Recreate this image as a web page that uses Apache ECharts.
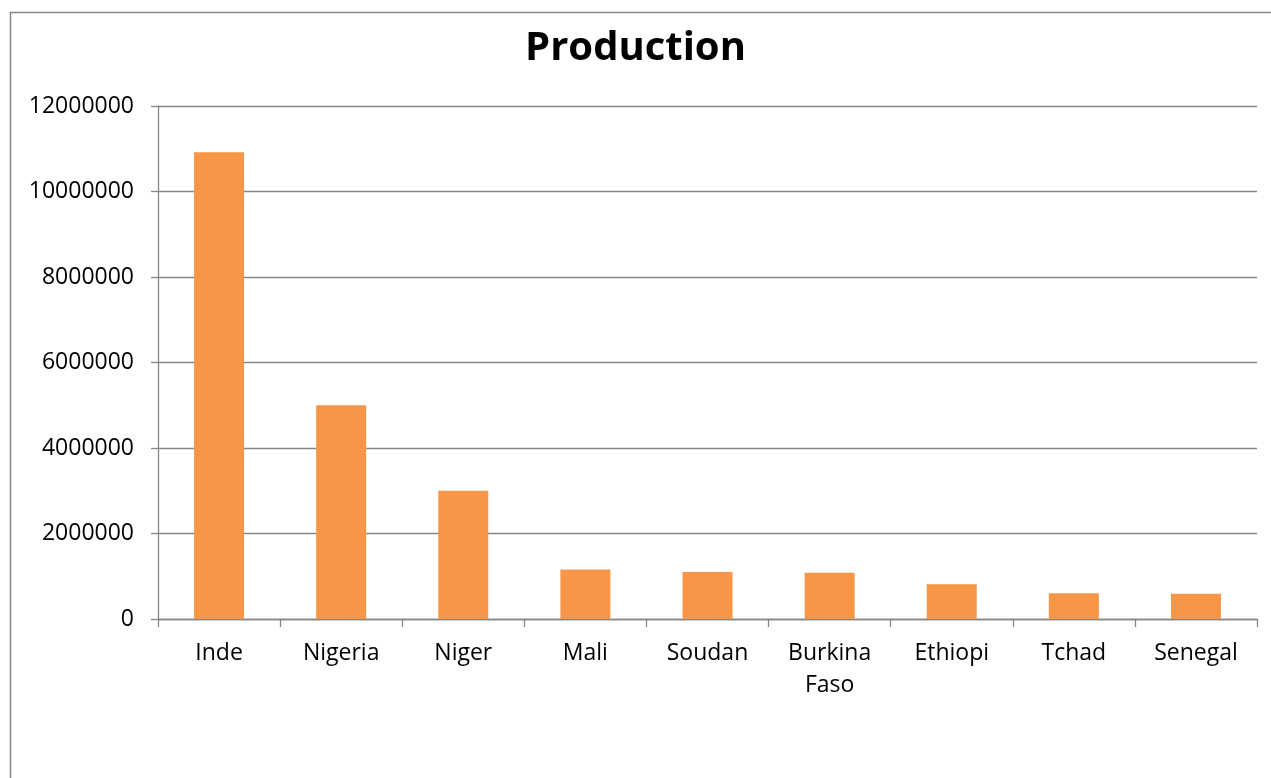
<!DOCTYPE html>
<html>
<head>
<meta charset="utf-8">
<script src="https://cdn.jsdelivr.net/npm/echarts@6/dist/echarts.min.js"></script>
<style>html,body{margin:0;padding:0;background:#fff}#c{width:1271px;height:778px}</style>
</head>
<body>
<div id="c"></div>
<script>
const categories = ["Inde", "Nigeria", "Niger", "Mali", "Soudan", "Burkina Faso", "Ethiopi", "Tchad", "Senegal"];
const production = [10920000, 5000000, 3000000, 1160000, 1100000, 1080000, 810000, 600000, 590000];
const titleText = "Production";

const chart = echarts.init(document.getElementById('c'), null, {renderer: 'canvas'});
const font = '"Open Sans", "Noto Sans", sans-serif';
const grey = '#868686';
chart.setOption({
  animation: false,
  backgroundColor: '#ffffff',
  graphic: [{
    type: 'rect', shape: {x: 10.5, y: 12.5, width: 1400, height: 900},
    style: {fill: 'none', stroke: grey, lineWidth: 1.5}, silent: true
  }],
  title: {
    text: titleText, left: 'center', top: 24,
    textStyle: {fontFamily: font, fontWeight: 'bold', fontSize: 40, color: '#000'}
  },
  grid: {left: 158, right: 14, top: 106, bottom: 159, containLabel: false},
  xAxis: {
    type: 'category', data: categories,
    axisLine: {lineStyle: {color: grey, width: 1.3}},
    axisTick: {show: true, length: 8, lineStyle: {color: grey, width: 1.3}},
    axisLabel: {
      interval: 0, color: '#000', fontFamily: font, fontSize: 23, margin: 18, lineHeight: 32,
      formatter: v => v.replace(' ', '\n')
    }
  },
  yAxis: {
    type: 'value', min: 0, max: 12000000, interval: 2000000,
    axisLine: {show: true, lineStyle: {color: grey, width: 1.3}},
    axisTick: {show: true, length: 7, lineStyle: {color: grey, width: 1.3}},
    splitLine: {show: true, lineStyle: {color: grey, width: 1.3}},
    axisLabel: {color: '#000', fontFamily: font, fontSize: 23, margin: 24, formatter: v => String(v)}
  },
  series: [{
    type: 'bar', data: production, barWidth: 50,
    itemStyle: {color: '#F79646'}
  }]
});
</script>
</body>
</html>
